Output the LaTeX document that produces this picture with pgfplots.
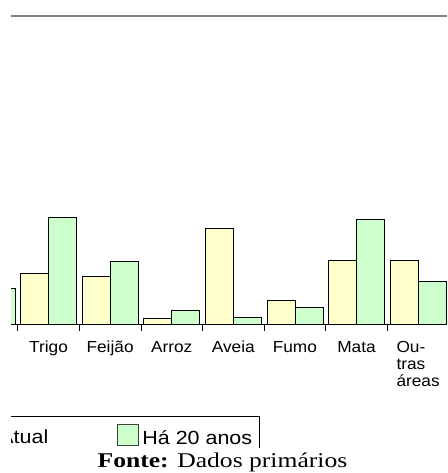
\documentclass[border=0pt]{standalone}
\usepackage{fontspec}
\setmainfont{Liberation Sans}[FakeStretch=1.08]
\newfontfamily\legfont{Liberation Sans}[FakeStretch=1.13]
\newfontfamily\fontefont{Liberation Serif}[FakeStretch=1.22]
\usepackage{pgfplots}
\pgfplotsset{compat=1.18}
\definecolor{atual}{RGB}{255,255,204}
\definecolor{vinte}{RGB}{204,255,204}
\definecolor{linha}{RGB}{128,128,128}
\begin{document}
\begin{tikzpicture}[x=1pt,y=1pt]
\useasboundingbox (0,0) rectangle (447,473);
\begin{scope}
\clip (11,25.3) rectangle (447,473);
\begin{axis}[
  at={(11pt,457.2pt)}, anchor=north west,
  scale only axis, width=436pt, height=308.2pt,
  xmin=0.3912, xmax=7.469, ymin=0, ymax=100,
  clip=false,
  axis x line*=bottom, axis y line=none,
  axis line style={black, line width=0.8pt},
  ybar=0pt, bar width=28pt,
  xtick={0.5,1.5,...,6.5}, xticklabels={},
  tick align=outside, major tick length=7pt,
  tick style={black, line width=0.8pt},
  ytick=\empty,
  extra x ticks={1,2,3,4,5,6,7},
  extra x tick labels={Trigo,Feijão,Arroz,Aveia,Fumo,Mata,
    {\begin{tabular}[t]{@{}l@{}}Ou-\\tras\\áreas\end{tabular}}},
  extra x tick style={major tick length=0pt,
    xticklabel style={font=\fontsize{16}{17}\selectfont,
      anchor=base, inner sep=0pt, yshift=-28.3pt}},
  legend columns=2,
  legend style={
    at={(axis description cs:0.5711,-0.298)}, anchor=north east,
    draw=black, line width=0.6pt,
    font=\legfont\fontsize{19}{22}\selectfont,
    inner xsep=7.5pt, inner ysep=8pt,
    nodes={inner sep=0pt},
    /tikz/every odd column/.append style={column sep=3.5pt},
    /tikz/every even column/.append style={column sep=69pt},
  },
]
\addplot[fill=atual, draw=black, line width=0.8pt,
  legend image code/.code={\draw[fill=atual, draw=darkgray, line width=0.6pt] (0pt,-7.6pt) rectangle (21pt,13.4pt);}]
  coordinates {(1,16.5) (2,15.6) (3,1.8) (4,30.9) (5,7.5) (6,20.5) (7,20.5)};
\addlegendentry{Atual}
\addplot[fill=vinte, draw=black, line width=0.8pt,
  legend image code/.code={\draw[fill=vinte, draw=darkgray, line width=0.6pt] (0pt,-7.6pt) rectangle (21pt,13.4pt);}]
  coordinates {(0,11.6) (1,34.6) (2,20.4) (3,4.4) (4,2.2) (5,5.3) (6,34.0) (7,13.9)};
\addlegendentry{Há 20 anos}
\draw[linha, line width=1.7pt] (rel axis cs:0,1) -- (rel axis cs:1,1);
\end{axis}
\end{scope}
\node[anchor=base, font=\fontefont\fontsize{21}{24}\selectfont] at (222.5,5.7)
  {\textbf{Fonte:} Dados primários};
\end{tikzpicture}
\end{document}
